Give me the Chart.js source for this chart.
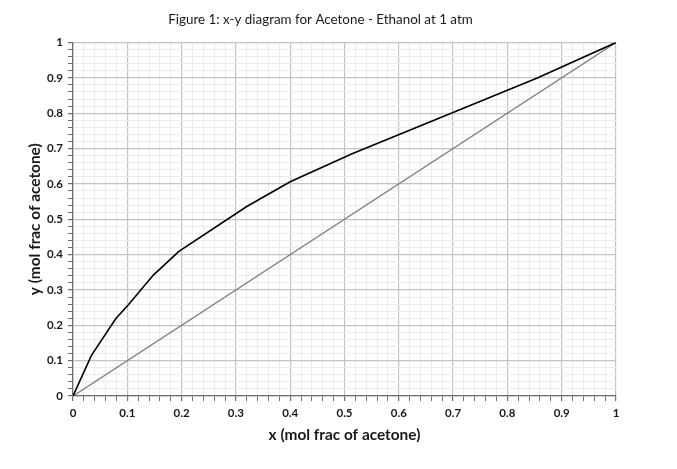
<!DOCTYPE html>
<html>
<head>
<meta charset="utf-8">
<style>
    html, body { margin: 0; padding: 0; background: #ffffff; }
    #wrap { width: 677px; height: 469px; }
</style>
<script src="https://cdn.jsdelivr.net/npm/chart.js@4.4.1/dist/chart.umd.min.js"></script>
</head>
<body>
<div id="wrap"><canvas id="xyChart"></canvas></div>
<script>
// equilibrium curve (x = liquid, y = vapour)
const liquidX = [0, 0.034, 0.079, 0.102, 0.148, 0.195, 0.32, 0.40, 0.514, 0.854, 1];
const vapourY = [0, 0.115, 0.219, 0.258, 0.342, 0.409, 0.536, 0.606, 0.685, 0.899, 1];
// 45 degree line
const diagX = [0, 1];
const diagY = [0, 1];

const titleText = 'Figure 1: x-y diagram for Acetone - Ethanol at 1 atm';
const xTitle = 'x (mol frac of acetone)';
const yTitle = 'y (mol frac of acetone)';

const toPoints = (xs, ys) => xs.map((x, i) => ({ x: x, y: ys[i] }));

// every 0.1 is a major line, 0.02 steps are minor
const isMajor = v => Math.abs(v * 10 - Math.round(v * 10)) < 1e-6;
const tickLabel = v => isMajor(v) ? String(Math.round(v * 10) / 10) : '';

const tickFont = { family: 'Lato', size: 11.5, weight: 'bold' };
const titleFont = { family: 'Lato', size: 15.4, weight: 'bold' };

function axis(title, titlePadding) {
    return {
        type: 'linear',
        min: 0,
        max: 1,
        border: { color: '#6e6e6e', width: 1.3 },
        grid: {
            color: ctx => isMajor(ctx.tick.value) ? '#c3c3c3' : '#ececec',
            lineWidth: ctx => isMajor(ctx.tick.value) ? 1.2 : 1,
            tickColor: '#6e6e6e',
            tickLength: 5
        },
        ticks: {
            stepSize: 0.02,
            autoSkip: false,
            maxRotation: 0,
            padding: 5,
            color: '#1a1a1a',
            font: tickFont,
            callback: v => tickLabel(v)
        },
        title: {
            display: true,
            text: title,
            color: '#1a1a1a',
            font: titleFont,
            padding: titlePadding
        }
    };
}

const xAxis = axis(xTitle, { top: 0, bottom: 25 });
xAxis.afterFit = scale => { scale.height = 73; };
const yAxis = axis(yTitle, { top: 26, bottom: 0 });
yAxis.afterFit = scale => { scale.width = 73; };

// the figure title sits a bit left of the plot centre, so draw it by hand
const figureTitle = {
    id: 'figureTitle',
    afterDraw(chart) {
        const ctx = chart.ctx;
        ctx.save();
        ctx.font = 'normal 13.4px Lato';
        ctx.fillStyle = '#1a1a1a';
        ctx.textAlign = 'center';
        ctx.textBaseline = 'middle';
        ctx.fillText(titleText, 320.5, 20);
        ctx.restore();
    }
};

new Chart(document.getElementById('xyChart'), {
    type: 'scatter',
    data: {
        datasets: [
            {
                label: 'Equilibrium',
                data: toPoints(liquidX, vapourY),
                showLine: true,
                borderColor: '#000000',
                borderWidth: 1.6,
                pointRadius: 0,
                tension: 0
            },
            {
                label: 'x = y',
                data: toPoints(diagX, diagY),
                showLine: true,
                borderColor: '#808080',
                borderWidth: 1.4,
                pointRadius: 0
            }
        ]
    },
    options: {
        responsive: true,
        maintainAspectRatio: false,
        animation: false,
        layout: { padding: { top: 42.5, right: 61, bottom: 0, left: 0 } },
        plugins: {
            legend: { display: false },
            tooltip: { enabled: false },
            title: { display: false }
        },
        scales: { x: xAxis, y: yAxis }
    },
    plugins: [figureTitle]
});
</script>
</body>
</html>
